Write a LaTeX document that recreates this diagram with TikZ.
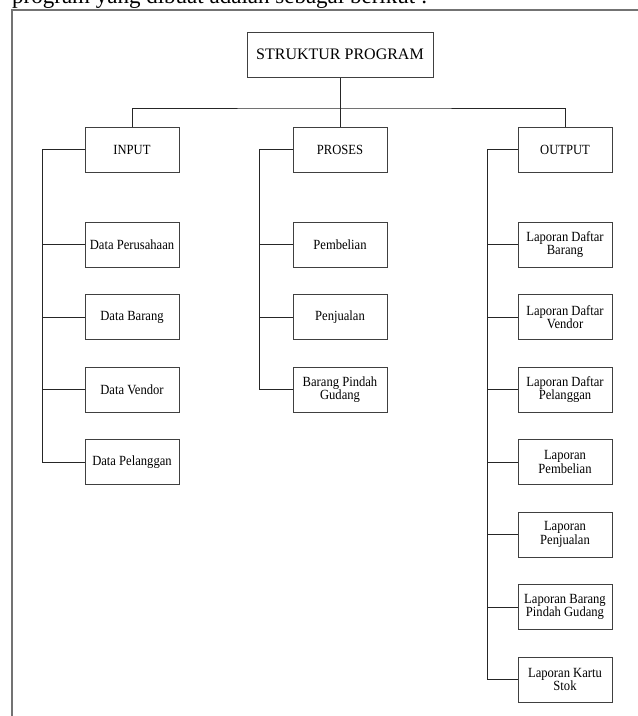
\documentclass[tikz,border=0pt]{standalone}
\usepackage{fontspec}
\setmainfont{Liberation Serif}
\newfontfamily\boxfont{Liberation Serif}[FakeStretch=0.9]
\begin{document}
\begin{tikzpicture}[x=1pt,y=-1pt,
  box/.style={draw=black!75, line width=1pt, fill=white, minimum width=94pt, minimum height=45pt,
    inner sep=1pt, align=center, font=\boxfont\fontsize{14}{13.5}\selectfont},
  topbox/.style={box, minimum width=186pt, font=\fontsize{16}{18}\selectfont},
  conn/.style={draw=black!85, line width=0.9pt},
  frameline/.style={draw=black!55, line width=1.5pt}]
\useasboundingbox (0,0) rectangle (638,716);
\begin{scope}
\clip (0,0) rectangle (638,716);
\node[anchor=base west, inner sep=0pt, font=\fontsize{23}{27}\selectfont] (caption) at (12,3) {program yang dibuat adalah sebagai berikut :};
\end{scope}
\draw[frameline] (12,716) -- (12,10) -- (638,10);

\node[topbox] (top) at (340,54.5) {STRUKTUR PROGRAM};
\node[box] (input) at (132,149.5) {INPUT};
\node[box] (proses) at (340,149.5) {PROSES};
\node[box] (output) at (565,149.5) {OUTPUT};

\node[box] (i1) at (132,244.5) {Data Perusahaan};
\node[box] (i2) at (132,317) {Data Barang};
\node[box] (i3) at (132,389.5) {Data Vendor};
\node[box] (i4) at (132,462) {Data Pelanggan};

\node[box] (p1) at (340,244.5) {Pembelian};
\node[box] (p2) at (340,317) {Penjualan};
\node[box] (p3) at (340,389.5) {Barang Pindah\\Gudang};

\node[box] (o1) at (565,244.5) {Laporan Daftar\\Barang};
\node[box] (o2) at (565,317) {Laporan Daftar\\Vendor};
\node[box] (o3) at (565,389.5) {Laporan Daftar\\Pelanggan};
\node[box] (o4) at (565,462) {Laporan\\Pembelian};
\node[box] (o5) at (565,534.5) {Laporan\\Penjualan};
\node[box] (o6) at (565,607) {Laporan Barang\\Pindah Gudang};
\node[box] (o7) at (565,679.5) {Laporan Kartu\\Stok};

\coordinate (bus) at (340,108);
\draw[conn] (top.south) -- (bus);
\draw[conn] (input.north) |- (bus) -| (output.north);
\draw[conn] (bus) -- (proses.north);

\draw[conn] (input.west) -- ++(-42,0) |- (i4.west);
\foreach \n in {i1,i2,i3} \draw[conn] (\n.west) -- ++(-42,0);

\draw[conn] (proses.west) -- ++(-33,0) |- (p3.west);
\foreach \n in {p1,p2} \draw[conn] (\n.west) -- ++(-33,0);

\draw[conn] (output.west) -- ++(-30,0) |- (o7.west);
\foreach \n in {o1,o2,o3,o4,o5,o6} \draw[conn] (\n.west) -- ++(-30,0);
\end{tikzpicture}
\end{document}
